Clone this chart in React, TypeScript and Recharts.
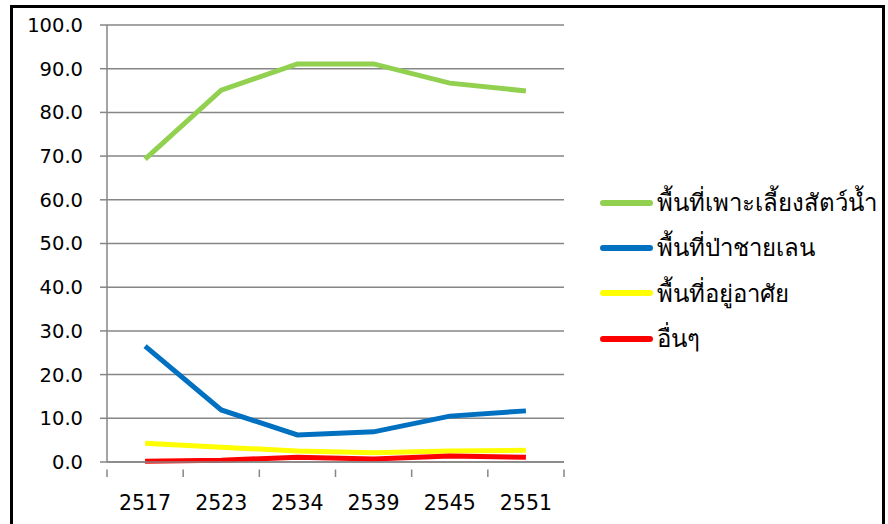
import { CartesianGrid, Line, LineChart, XAxis, YAxis } from 'recharts';

const years = ['2517', '2523', '2534', '2539', '2545', '2551'];
const aquaculture = [69.3, 85.1, 91.1, 91.1, 86.7, 84.9];
const mangrove = [26.5, 11.9, 6.2, 6.9, 10.5, 11.7];
const housing = [4.3, 3.4, 2.5, 2.1, 2.5, 2.7];
const others = [0.2, 0.4, 1.1, 0.7, 1.4, 1.1];
const yTicks = [0, 10, 20, 30, 40, 50, 60, 70, 80, 90, 100];

const seriesNames = ['พื้นที่เพาะเลี้ยงสัตว์น้ำ', 'พื้นที่ป่าชายเลน', 'พื้นที่อยู่อาศัย', 'อื่นๆ'];
const seriesColors = ['#92d050', '#0070c0', '#ffff00', '#ff0000'];

const data = years.map((year, i) => ({
  year,
  aquaculture: aquaculture[i],
  mangrove: mangrove[i],
  housing: housing[i],
  others: others[i],
}));

const W = 888;
const H = 524;
const PLOT_LEFT = 107;
const PLOT_RIGHT = 564;
const band = (PLOT_RIGHT - PLOT_LEFT) / years.length;
const gray = '#868686';
const font = '"DejaVu Sans", Verdana, sans-serif';

function XTick({ x, y, payload, index }: any) {
  return (
    <g>
      <line x1={x - band / 2} x2={x - band / 2} y1={y - 0.5} y2={y + 7} stroke={gray} strokeWidth={1.5} />
      {index === years.length - 1 && (
        <line x1={x + band / 2} x2={x + band / 2} y1={y - 0.5} y2={y + 7} stroke={gray} strokeWidth={1.5} />
      )}
      <text x={x} y={y + 25} dy="0.71em" textAnchor="middle" fontSize={20.5} fill="#000" fontFamily={font}>
        {payload.value}
      </text>
    </g>
  );
}

function LegendBox() {
  return (
    <div
      style={{
        position: 'absolute',
        left: 600,
        top: 180,
        fontFamily: 'Tahoma, "Noto Sans", "DejaVu Sans", sans-serif',
        fontSize: 24,
        color: '#000',
        whiteSpace: 'nowrap',
      }}
    >
      {seriesNames.map((name, i) => (
        <div key={name} style={{ display: 'flex', alignItems: 'center', height: 45.3 }}>
          <span style={{ display: 'inline-block', width: 53, height: 6, borderRadius: 3, background: seriesColors[i], marginRight: 4 }} />
          <span>{name}</span>
        </div>
      ))}
    </div>
  );
}

export default function App() {
  return (
    <div style={{ position: 'fixed', left: 0, top: 0, width: W, height: H, background: '#fff', overflow: 'hidden' }}>
      <div
        style={{
          position: 'absolute',
          left: 10,
          top: 5,
          width: W - 10 - 3,
          height: H,
          border: '3px solid #000',
          boxSizing: 'border-box',
        }}
      />
      <div style={{ position: 'absolute', left: 0, top: 0 }}>
        <LineChart width={W} height={H} data={data} margin={{ top: 25, right: W - PLOT_RIGHT, bottom: 0, left: 0 }}>
          <CartesianGrid vertical={false} stroke={gray} strokeWidth={1.5} />
          <XAxis
            dataKey="year"
            axisLine={{ stroke: gray, strokeWidth: 1.5 }}
            tickLine={false}
            tick={<XTick />}
            interval={0}
            height={62}
            padding={{ left: band / 2, right: band / 2 }}
          />
          <YAxis
            domain={[0, 100]}
            ticks={yTicks}
            width={PLOT_LEFT}
            axisLine={{ stroke: gray, strokeWidth: 1.5 }}
            tickLine={{ stroke: gray, strokeWidth: 1.5 }}
            tickSize={7}
            tickMargin={17}
            tickFormatter={(v: number) => v.toFixed(1)}
            tick={{ fontSize: 19.5, fill: '#000', fontFamily: font }}
          />
          <Line dataKey="aquaculture" name={seriesNames[0]} stroke={seriesColors[0]} strokeWidth={5} dot={false} isAnimationActive={false} />
          <Line dataKey="mangrove" name={seriesNames[1]} stroke={seriesColors[1]} strokeWidth={5} dot={false} isAnimationActive={false} />
          <Line dataKey="housing" name={seriesNames[2]} stroke={seriesColors[2]} strokeWidth={5} dot={false} isAnimationActive={false} />
          <Line dataKey="others" name={seriesNames[3]} stroke={seriesColors[3]} strokeWidth={5} dot={false} isAnimationActive={false} />
        </LineChart>
      </div>
      <LegendBox />
    </div>
  );
}
